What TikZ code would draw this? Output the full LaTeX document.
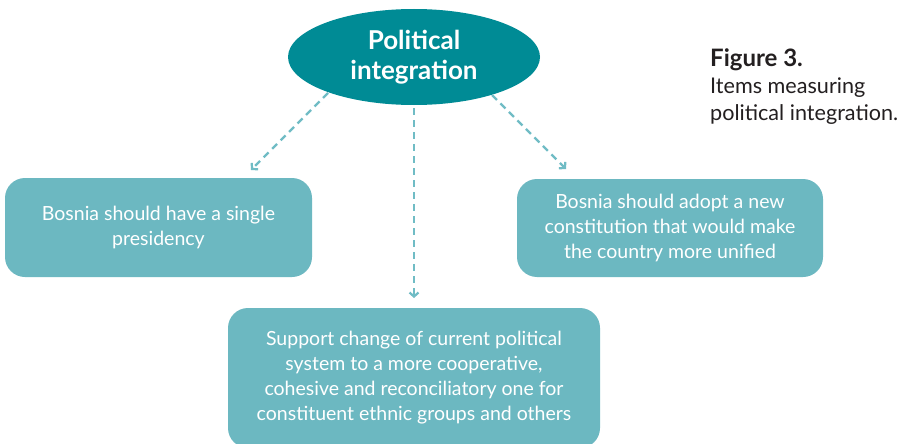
\documentclass[tikz,border=0pt]{standalone}
\usepackage{fontspec}
\setmainfont{Lato}
\usetikzlibrary{arrows.meta,shapes.geometric}
\definecolor{darkteal}{RGB}{0,139,149}
\definecolor{lightteal}{RGB}{108,184,193}
\definecolor{arrowteal}{RGB}{112,188,197}
\definecolor{captext}{RGB}{35,31,32}
\begin{document}
\begin{tikzpicture}[x=1pt,y=-1pt,
  itembox/.style={fill=lightteal, draw=none, rounded corners=20pt, inner sep=0pt,
    text=white, align=center, font=\fontsize{19.5}{25}\selectfont},
  connector/.style={draw=arrowteal, line width=2.4pt, dash pattern=on 7pt off 5pt,
    -{Straight Barb[length=4pt,width=9pt,line width=2.2pt]}},
  titleshape/.style={ellipse, fill=darkteal, draw=none, inner sep=0pt,
    minimum width=252pt, minimum height=96pt, text=white, align=center,
    font=\bfseries\fontsize{26}{30}\selectfont}]
\clip (0,0) rectangle (905,444);
\fill[white] (0,0) rectangle (905,444);

\node[titleshape] (pi) at (414,57) {Political\\integration};

\node[itembox, minimum width=307pt, minimum height=99pt] (b1) at (158.5,227.5)
  {Bosnia should have a single\\presidency};
\node[itembox, minimum width=306pt, minimum height=98pt] (b2) at (670,228)
  {\fontsize{19.5}{24.5}\selectfont Bosnia should adopt a new\\constitution that would make\\the country more unified};
\node[itembox, minimum width=372pt, minimum height=140pt] (b3) at (414,378)
  {\fontsize{19.5}{26}\selectfont Support change of current political\\system to a more cooperative,\\cohesive and reconciliatory one for\\constituent ethnic groups and others};

\coordinate (s1) at (328,93);
\coordinate (t1) at (251,170);
\coordinate (s2) at (414,108);
\coordinate (t2) at (414,298);
\coordinate (s3) at (492,95);
\coordinate (t3) at (566,169);
\draw[connector] (s1) -- (t1);
\draw[connector] (s2) -- (t2);
\draw[connector] (s3) -- (t3);

\node[anchor=base west, inner sep=0pt, text=captext, align=left,
  font=\fontsize{21.6}{27}\selectfont] (cap) at (710,120)
  {{\fontsize{24}{27}\selectfont\textbf{Figure 3.}}\\Items measuring\\political integration.};
\end{tikzpicture}
\end{document}
